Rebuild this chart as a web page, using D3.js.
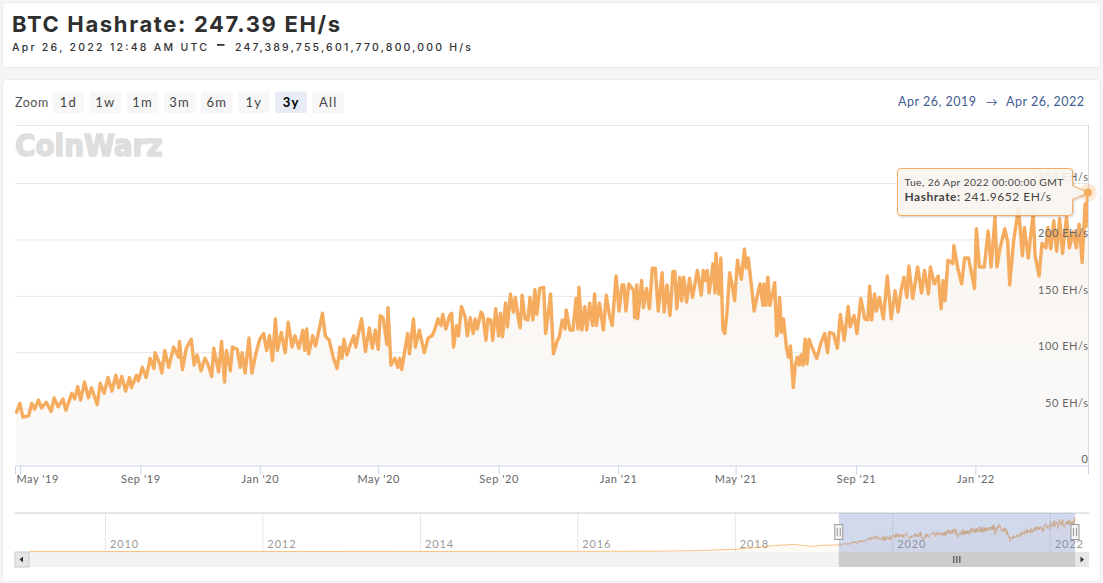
<!DOCTYPE html>
<html>
<head>
<meta charset="utf-8">
<script src="https://cdn.jsdelivr.net/npm/d3@7/dist/d3.min.js"></script>
<style>
html,body{margin:0;padding:0;background:#f5f5f5;overflow:hidden}
svg{display:block}
text{font-family:Lato,"Open Sans",sans-serif}
</style>
</head>
<body>
<svg id="c" width="1103" height="583"></svg>
<script>
const title = "BTC Hashrate: 247.39 EH/s";
const subtitle = "Apr 26, 2022 12:48 AM UTC";
const subtitleValue = "247,389,755,601,770,800,000 H/s";
const zoomButtons = ["1d","1w","1m","3m","6m","1y","3y","All"];
const selectedButton = "3y";
const rangeFrom = "Apr 26, 2019", rangeTo = "Apr 26, 2022";
const startDate = new Date(Date.UTC(2019,3,26));

const xTickDates = ["2019-05-01","2019-09-01","2020-01-01","2020-05-01","2020-09-01","2021-01-01","2021-05-01","2021-09-01","2022-01-01"];
const xTickLabels = ["May '19","Sep '19","Jan '20","May '20","Sep '20","Jan '21","May '21","Sep '21","Jan '22"];
const yTicks = [0,50,100,150,200,250];

// days after Apr 26 2019
const dayOffsets = [
1,5,8,14,17,20,24,27,32,37,40,44,49,52,58,61,64,67,71,75,
78,84,87,91,95,99,103,106,109,113,117,119,124,126,130,134,138,142,143,148,
150,153,157,162,167,168,171,175,180,183,186,190,194,197,201,203,208,211,214,216,
220,222,227,230,232,235,239,242,246,250,254,257,260,263,266,268,272,276,279,283,
286,290,294,296,298,300,304,307,311,314,317,321,325,329,332,334,336,339,342,346,
348,351,354,358,362,365,368,371,373,376,380,381,384,388,391,393,395,401,403,407,
409,413,418,422,426,429,432,435,437,440,444,446,448,451,453,456,460,462,465,468,
470,472,476,478,481,483,486,488,491,494,496,498,501,503,506,509,511,514,516,518,
521,524,526,529,531,533,536,540,542,545,547,550,554,556,559,562,563,567,570,573,
575,576,579,582,584,587,590,592,594,597,601,604,607,610,614,617,620,622,624,627,
632,633,635,636,640,642,645,648,651,654,657,661,663,666,669,672,674,676,679,681,
683,686,689,692,697,701,703,705,707,709,713,715,716,719,721,723,725,727,730,733,
735,738,742,745,747,749,752,755,757,761,764,765,767,769,771,773,776,778,779,781,
783,785,788,790,792,795,797,799,801,803,805,807,809,811,814,819,823,827,830,832,
836,840,843,847,851,853,857,860,864,868,871,873,875,878,880,883,887,891,895,899,
902,905,908,911,913,917,922,926,929,933,935,939,943,946,948,950,953,958,959,963,
967,970,974,980,982,985,990,994,997,1001,1003,1006,1011,1014,1016,1020,1025,1029,1031,1035,
1040,1042,1046,1049,1053,1055,1058,1061,1064,1067,1070,1074,1077,1081,1084,1087,1090,1093,1094,1096
];
// EH/s
const hashrate = [
46,55,43,44,55,50,58,51,56,48,60,52,59,49,64,59,70,58,74,60,
69,54,73,64,78,66,80,69,79,66,78,69,80,75,87,78,95,86,100,90,
82,102,87,105,96,110,85,104,112,89,98,84,95,90,79,104,83,110,74,102,
84,105,103,87,100,82,113,82,99,112,117,102,115,93,130,102,118,100,127,105,
115,104,120,102,121,99,115,106,122,135,115,111,96,86,105,95,112,98,106,115,
105,118,130,101,122,104,120,103,133,131,107,140,89,95,87,95,85,117,99,130,
105,120,100,113,115,121,130,124,134,121,133,135,105,124,115,141,131,115,131,117,
130,121,136,133,111,130,129,111,139,115,135,114,144,123,152,136,149,131,122,151,
130,129,149,129,156,134,157,158,117,137,152,99,111,114,129,121,138,120,120,148,
121,158,120,141,120,144,124,152,124,144,120,151,134,124,168,137,160,160,137,161,
155,131,160,130,164,140,157,139,175,175,137,171,136,160,133,172,172,139,167,146,
167,145,166,149,173,151,173,164,173,153,179,153,188,152,184,121,117,133,171,158,
146,182,165,192,175,184,161,137,146,161,142,161,142,167,142,149,162,115,117,149,
118,130,104,96,106,69,89,96,89,98,89,112,90,112,105,95,108,117,100,118,
117,104,134,111,141,123,133,117,148,130,129,159,129,152,137,149,130,168,130,155,
136,155,167,149,177,148,176,153,173,152,176,161,168,139,164,146,182,179,195,175,
161,184,184,157,210,176,176,208,176,220,176,192,210,198,160,199,228,186,211,184,
224,186,168,197,193,211,192,217,190,219,188,220,193,207,193,214,180,232,212,241.9652
];

// earlier history shown only in the navigator
const historyDates = ["2009-01-15","2010-06-01","2012-01-01","2014-01-01","2016-01-01","2017-01-01","2017-07-01","2018-01-01","2018-04-01","2018-07-01","2018-10-01","2018-12-15","2019-02-15"];
const historyValues = [0,0,0,0.1,1,2,6,15,28,42,50,36,44];
const navYearLabels = [2010,2012,2014,2016,2018,2020,2022];

const tooltipDate = "Tue, 26 Apr 2022 00:00:00 GMT";
const tooltipLabel = "Hashrate:";
const tooltipValue = "241.9652 EH/s";

const svg = d3.select("#c");
const orange = "#f5ac5e";
const defs = svg.append("defs");
const grad = defs.append("linearGradient").attr("id","areaFill").attr("x1",0).attr("y1",0).attr("x2",0).attr("y2",1);
grad.append("stop").attr("offset","0%").attr("stop-color","#faf5ef");
grad.append("stop").attr("offset","100%").attr("stop-color","#fafafa");
defs.append("clipPath").attr("id","plotClip").append("rect").attr("x",15).attr("y",125).attr("width",1073).attr("height",341);
const shadow = defs.append("filter").attr("id","tipShadow").attr("x","-10%").attr("y","-20%").attr("width","120%").attr("height","150%");
shadow.append("feDropShadow").attr("dx",1).attr("dy",1).attr("stdDeviation",1).attr("flood-color","#000").attr("flood-opacity",0.2);

// cards
[[2.5,2.5,1098,65],[2.5,79.5,1098,502]].forEach(c=>{
  svg.append("rect").attr("x",c[0]).attr("y",c[1]).attr("width",c[2]).attr("height",c[3]).attr("rx",4)
    .attr("fill","#fff").attr("stroke","#ebebeb");
});

// header
svg.append("text").attr("x",12).attr("y",31.5).text(title)
  .attr("font-size",22).attr("font-weight",700).attr("fill","#2f2f2f")
  .style("font-family","Inter,sans-serif").attr("textLength",328).attr("lengthAdjust","spacing");
svg.append("text").attr("x",12).attr("y",51).text(subtitle)
  .attr("font-size",10.5).attr("fill","#333").style("font-family","Inter,sans-serif").attr("font-weight",500)
  .attr("textLength",195).attr("lengthAdjust","spacing");
svg.append("rect").attr("x",217).attr("y",44).attr("width",7.5).attr("height",1.8).attr("fill","#333");
svg.append("text").attr("x",235).attr("y",51).text(subtitleValue)
  .attr("font-size",10.5).attr("fill","#333").style("font-family","Inter,sans-serif").attr("font-weight",500)
  .attr("textLength",236).attr("lengthAdjust","spacing");

// range selector
svg.append("text").attr("x",15).attr("y",107).text("Zoom").attr("font-size",12.5).attr("fill","#555").attr("letter-spacing",0.5);
const btnX = d3.scaleBand().domain(zoomButtons).range([52.5,344]).paddingInner(0.148).paddingOuter(0);
zoomButtons.forEach(b=>{
  const sel = b===selectedButton;
  svg.append("rect").attr("x",btnX(b)).attr("y",91.5).attr("width",btnX.bandwidth()).attr("height",21.5).attr("rx",2)
    .attr("fill",sel?"#e6ebf5":"#f7f7f7");
  svg.append("text").attr("x",btnX(b)+btnX.bandwidth()/2).attr("y",107).attr("text-anchor","middle").text(b)
    .attr("font-size",13).attr("letter-spacing",1.2).attr("fill",sel?"#000":"#444").attr("font-weight",sel?700:400);
});
svg.append("text").attr("x",898).attr("y",106).text(rangeFrom).attr("font-size",12.5).attr("fill","#3f5d8f").attr("letter-spacing",0.5);
svg.append("text").attr("x",991.5).attr("y",106).attr("text-anchor","middle").text("\u2192").attr("font-size",12).attr("fill","#3f5d8f");
svg.append("text").attr("x",1006).attr("y",106).text(rangeTo).attr("font-size",12.5).attr("fill","#3f5d8f").attr("letter-spacing",0.5);

// main chart
const x = d3.scaleTime().domain([startDate,new Date(Date.UTC(2022,3,26))]).range([15,1088]);
const y = d3.scaleLinear().domain([0,250]).range([465.5,183.5]);
const dayDate = d=>d3.utcDay.offset(startDate,d);
const data = d3.zip(dayOffsets,hashrate).map(d=>({date:dayDate(d[0]),value:d[1]}));

// grid
svg.append("g").selectAll("line").data(yTicks.filter(v=>v>0)).join("line")
  .attr("x1",15).attr("x2",1088).attr("y1",d=>y(d)).attr("y2",d=>y(d)).attr("stroke","#e6e6e6");
svg.append("line").attr("x1",15).attr("x2",1088).attr("y1",125.5).attr("y2",125.5).attr("stroke","#e6e6e6");
svg.append("line").attr("x1",1088.5).attr("x2",1088.5).attr("y1",125).attr("y2",466).attr("stroke","#d8d8d8");

// watermark
svg.append("text").attr("transform","translate(15,156) scale(0.93,1)").text("CoinWarz")
  .attr("fill","#dedede").attr("stroke","#dedede").attr("stroke-width",1.6).attr("font-weight",700)
  .attr("font-size",30).style("font-family","'DejaVu Sans',sans-serif");

const plot = svg.append("g").attr("clip-path","url(#plotClip)");
plot.append("path").datum(data).attr("fill","url(#areaFill)")
  .attr("d",d3.area().x(d=>x(d.date)).y0(y(0)).y1(d=>y(d.value)));
plot.append("path").datum(data).attr("fill","none").attr("stroke",orange).attr("stroke-width",3.4)
  .attr("stroke-linejoin","round")
  .attr("d",d3.line().x(d=>x(d.date)).y(d=>y(d.value)));

// x axis
const xAxis = d3.axisBottom(x).tickValues(xTickDates.map(d=>new Date(d+"T00:00:00Z")))
  .tickFormat((d,i)=>xTickLabels[i]).tickSize(9).tickPadding(1);
const gx = svg.append("g").attr("transform","translate(0,465.5)").call(xAxis);
gx.select(".domain").attr("stroke","#ccd6eb");
gx.selectAll("line").attr("stroke","#ccd6eb");
gx.selectAll("text").attr("font-size",11).attr("fill","#666").attr("letter-spacing",0.55)
  .style("font-family","Lato,sans-serif");
gx.selectAll("text").filter((d,i)=>i===0).attr("text-anchor","start").attr("x",x.range()[0]-x(new Date(xTickDates[0]+"T00:00:00Z"))+1);

// y axis labels, drawn above the series
const yAxis = d3.axisLeft(y).tickValues(yTicks).tickSize(0).tickPadding(0)
  .tickFormat(d=>d===0?"0":d+" EH/s");
const gy = svg.append("g").attr("transform","translate(1088.5,-6.5)").call(yAxis);
gy.select(".domain").remove();
gy.selectAll("text").attr("font-size",11).attr("fill","#666").attr("letter-spacing",0.55)
  .style("font-family","Lato,sans-serif");

// tooltip
const last = data[data.length-1];
const mx = x(last.date), my = y(last.value);
svg.append("circle").attr("cx",mx).attr("cy",my).attr("r",9).attr("fill",orange).attr("opacity",0.25);
const tipX0=897.5, tipX1=1072.5, tipY0=168.5, tipY1=215.5, r=3;
const tp = d3.path();
tp.moveTo(tipX0+r,tipY0); tp.lineTo(tipX1-r,tipY0); tp.arcTo(tipX1,tipY0,tipX1,tipY0+r,r);
tp.lineTo(tipX1,my-7); tp.lineTo(mx,my); tp.lineTo(tipX1,my+7);
tp.lineTo(tipX1,tipY1-r); tp.arcTo(tipX1,tipY1,tipX1-r,tipY1,r);
tp.lineTo(tipX0+r,tipY1); tp.arcTo(tipX0,tipY1,tipX0,tipY1-r,r);
tp.lineTo(tipX0,tipY0+r); tp.arcTo(tipX0,tipY0,tipX0+r,tipY0,r); tp.closePath();
svg.append("path").attr("d",tp.toString()).attr("fill","#fbf6f0").attr("fill-opacity",0.88)
  .attr("stroke",orange).attr("stroke-width",1).attr("filter","url(#tipShadow)");
svg.append("circle").attr("cx",mx).attr("cy",my).attr("r",4).attr("fill",orange);
svg.append("text").attr("x",904.5).attr("y",186).text(tooltipDate).attr("font-size",10.3).attr("fill","#444").attr("letter-spacing",0.4);
const t2 = svg.append("text").attr("x",904.5).attr("y",201).attr("font-size",12).attr("fill","#444").attr("letter-spacing",0.5);
t2.append("tspan").attr("font-weight",700).text(tooltipLabel);
t2.append("tspan").text(" "+tooltipValue);

// navigator
const nx = d3.scaleTime().domain([new Date("2008-11-07T00:00:00Z"),new Date("2022-04-26T00:00:00Z")]).range([15,1075]);
const ny = d3.scaleLinear().domain([0,250]).range([551.5,516]);
const navData = historyDates.map((d,i)=>({date:new Date(d+"T00:00:00Z"),value:historyValues[i]})).concat(data);
svg.append("g").selectAll("line").data(navYearLabels).join("line")
  .attr("x1",d=>nx(new Date(Date.UTC(d,0,1)))).attr("x2",d=>nx(new Date(Date.UTC(d,0,1))))
  .attr("y1",513).attr("y2",552).attr("stroke","#e6e6e6");
svg.append("g").selectAll("text").data(navYearLabels).join("text")
  .attr("x",d=>nx(new Date(Date.UTC(d,0,1)))+4.5).attr("y",548).text(d=>d)
  .attr("font-size",11).attr("fill","#999").attr("letter-spacing",0.9);
svg.append("line").attr("x1",15).attr("x2",1089).attr("y1",513).attr("y2",513).attr("stroke","#ccc");
svg.append("path").datum(navData).attr("fill","#f5ac5e").attr("fill-opacity",0.06)
  .attr("d",d3.area().x(d=>nx(d.date)).y0(552).y1(d=>ny(d.value)));
svg.append("path").datum(navData).attr("fill","none").attr("stroke",orange).attr("stroke-opacity",0.75).attr("stroke-width",1)
  .attr("d",d3.line().x(d=>nx(d.date)).y(d=>ny(d.value)));

// scrollbar
const brushX0 = nx(startDate), brushX1 = nx(new Date("2022-04-26T00:00:00Z"));
svg.append("rect").attr("x",15).attr("y",552).attr("width",1074).attr("height",15).attr("fill","#f2f2f2");
svg.append("rect").attr("x",15).attr("y",552).attr("width",14).attr("height",15).attr("fill","#e6e6e6").attr("stroke","#ccc");
svg.append("path").attr("d","M19.5 559.5L23 556.5V562.5Z").attr("fill","#333");
svg.append("rect").attr("x",1075).attr("y",552).attr("width",14).attr("height",15).attr("fill","#e6e6e6");
svg.append("path").attr("d","M1084 559.5L1080.5 556.5V562.5Z").attr("fill","#333");
svg.append("rect").attr("x",brushX0).attr("y",552).attr("width",brushX1-brushX0).attr("height",15).attr("fill","#cccccc");
[-3,0,3].forEach(d=>svg.append("line").attr("x1",(brushX0+brushX1)/2+d).attr("x2",(brushX0+brushX1)/2+d).attr("y1",556).attr("y2",563).attr("stroke","#333"));

// navigator mask + handles
svg.append("rect").attr("x",brushX0).attr("y",513).attr("width",brushX1-brushX0).attr("height",39).attr("fill","#6685c2").attr("fill-opacity",0.3);
[brushX0,brushX1].forEach(h=>{
  svg.append("rect").attr("x",h-4).attr("y",524.5).attr("width",8).attr("height",15).attr("fill","#f2f2f2").attr("stroke","#999");
  [-1.5,1.5].forEach(d=>svg.append("line").attr("x1",h+d).attr("x2",h+d).attr("y1",528).attr("y2",536).attr("stroke","#999"));
});
</script>
</body>
</html>
